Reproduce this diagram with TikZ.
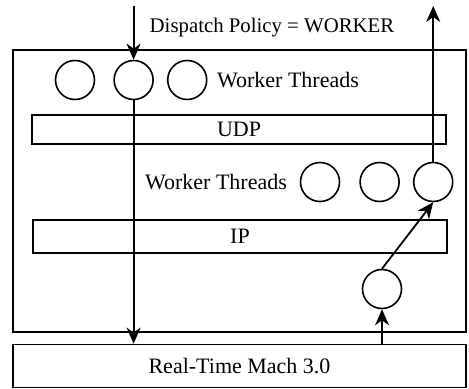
\documentclass[tikz,border=0pt]{standalone}
\usepackage{fontspec}
\setmainfont{Liberation Serif}
\usetikzlibrary{positioning, arrows.meta}

\begin{document}
\begin{tikzpicture}[x=0.5pt, y=-0.5pt, font=\fontsize{11}{13}\selectfont,
    layer/.style={draw, line width=0.9pt, rectangle, minimum width=207pt, inner sep=0pt},
    thread/.style={draw, line width=0.8pt, circle, minimum size=19.5pt, inner sep=0pt},
    msg/.style={line width=0.9pt, -{Stealth[length=8pt, width=7pt, inset=2.5pt]}}]
    \useasboundingbox (0,0) rectangle (469,389);

    % protocol stack
    \node[draw, line width=1pt, minimum width=226.5pt, minimum height=141pt] (server) at (239.5,191) {};
    \node[layer, minimum width=226.5pt, minimum height=21.5pt] (rtm) at (239.5,366) {Real-Time Mach 3.0};
    \node[layer, minimum height=14.5pt] (udp) at (239,129.5) {UDP};
    \node[layer, minimum height=16.5pt] (ip) at (240,236.5) {IP};

    % worker threads above UDP
    \node[thread] (t1) at (75,80) {};
    \node[thread, right=9pt of t1] (t2) {};
    \node[thread, right=6.5pt of t2] (t3) {};
    \node (tlabel) at (288,80) {Worker Threads};

    % worker threads above IP
    \node[thread] (w1) at (320,182) {};
    \node[thread, right=9.5pt of w1] (w2) {};
    \node[thread, right=6.5pt of w2] (w3) {};
    \node (wlabel) at (216,182) {Worker Threads};

    \node[thread] (b1) at (382,289) {};

    \node[font=\fontsize{10.4}{12}\selectfont] (policy) at (272,28) {Dispatch Policy = WORKER};

    \coordinate (in) at (t2.north |- 0,6);
    \coordinate (out) at (w3.north |- 0,6);

    \path[msg]
        (in) edge (t2.north)
        (t2.south) edge (t2.south |- rtm.north)
        (b1 |- rtm.north) edge (b1.south)
        (b1.north) edge (w3.south)
        (w3.north) edge (out)
        ;
\end{tikzpicture}
\end{document}
